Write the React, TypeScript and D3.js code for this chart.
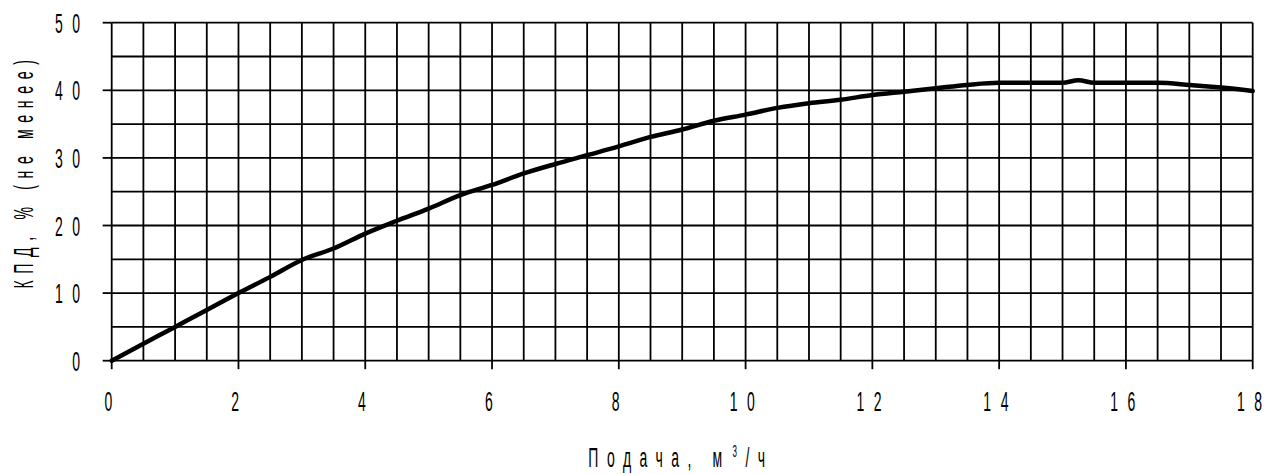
import React from "react";
import * as d3 from "d3";

const flowValues = [0, 0.5, 1, 1.5, 2, 2.5, 3, 3.5, 4, 4.5, 5, 5.5, 6, 6.5, 7, 7.5, 8, 8.5, 9, 9.5, 10, 10.5, 11, 11.5, 12, 12.5, 13, 13.5, 14, 14.5, 15, 15.25, 15.5, 16, 16.5, 17, 17.5, 18];
const efficiencyValues = [0, 2.5, 5.0, 7.5, 10.0, 12.4, 14.9, 16.6, 18.8, 20.7, 22.5, 24.5, 26.0, 27.7, 29.1, 30.4, 31.7, 33.1, 34.2, 35.5, 36.4, 37.4, 38.1, 38.6, 39.3, 39.8, 40.3, 40.8, 41.1, 41.1, 41.1, 41.5, 41.1, 41.1, 41.1, 40.8, 40.4, 39.9];
const xTickLabels = [0, 2, 4, 6, 8, 10, 12, 14, 16, 18];
const yTickLabels = [0, 10, 20, 30, 40, 50];
const xGridValues = d3.range(0, 18.01, 0.5);
const yGridValues = d3.range(0, 50.01, 5);
const xTitle = "Подача, м";
const xTitleSup = "3";
const xTitleEnd = "/ч";
const yTitle = "КПД, % (не менее)";

const W = 1275;
const H = 474;
const left = 111.7;
const right = 1252.7;
const top = 22.7;
const bottom = 360.7;
const FS = 28;
const SX = 0.5;
const LS_DIGITS = 19;
const LS_XTITLE = 17;
const LS_YTITLE = 13.4;
const FONT = "'Liberation Sans', Arial, sans-serif";

export default function App() {
  const x = d3.scaleLinear().domain([0, 18]).range([left, right]);
  const y = d3.scaleLinear().domain([0, 50]).range([bottom, top]);
  const line = d3
    .line<number>()
    .x((_, i) => x(flowValues[i]))
    .y((d) => y(d))
    .curve(d3.curveMonotoneX);

  return (
    <div style={{ position: "absolute", left: 0, top: 0 }}>
      <svg width={W} height={H} style={{ display: "block", background: "#fff" }}>
        {xGridValues.map((v) => (
          <line key={"vx" + v} x1={x(v)} x2={x(v)} y1={top} y2={bottom} stroke="#000" strokeWidth={1.8} />
        ))}
        {yGridValues.map((v) => (
          <line key={"hy" + v} x1={left} x2={right} y1={y(v)} y2={y(v)} stroke="#000" strokeWidth={1.8} />
        ))}
        {xTickLabels.map((v) => (
          <line key={"tx" + v} x1={x(v)} x2={x(v)} y1={bottom} y2={bottom + 8.5} stroke="#000" strokeWidth={1.8} />
        ))}
        {yTickLabels.map((v) => (
          <line key={"ty" + v} x1={left - 9} x2={left} y1={y(v)} y2={y(v)} stroke="#000" strokeWidth={1.8} />
        ))}
        <path d={line(efficiencyValues) || ""} fill="none" stroke="#000" strokeWidth={4.5} strokeLinejoin="round" strokeLinecap="round" />
        {xTickLabels.map((v) => (
          <g key={"lx" + v} transform={`translate(${x(v) + 1.5},${411}) scale(${SX},1)`}>
            <text textAnchor="middle" fontFamily={FONT} fontSize={FS} letterSpacing={LS_DIGITS} fill="#000">
              {String(v)}
            </text>
          </g>
        ))}
        {yTickLabels.map((v) => (
          <g key={"ly" + v} transform={`translate(${89.5},${y(v) + 10}) scale(${SX},1)`}>
            <text textAnchor="end" fontFamily={FONT} fontSize={FS} letterSpacing={LS_DIGITS} fill="#000">
              {String(v)}
            </text>
          </g>
        ))}
        <g transform={`translate(${681},${467}) scale(${SX},1)`}>
          <text textAnchor="middle" fontFamily={FONT} fontSize={FS} letterSpacing={LS_XTITLE} fill="#000">
            {xTitle}
            <tspan fontSize={16} dy={-10} dx={4}>{xTitleSup}</tspan>
            <tspan dy={10}>{xTitleEnd}</tspan>
          </text>
        </g>
        <g transform={`translate(${33},${171}) rotate(-90) scale(${SX},1)`}>
          <text textAnchor="middle" fontFamily={FONT} fontSize={FS} letterSpacing={LS_YTITLE} fill="#000">
            {yTitle}
          </text>
        </g>
      </svg>
    </div>
  );
}
